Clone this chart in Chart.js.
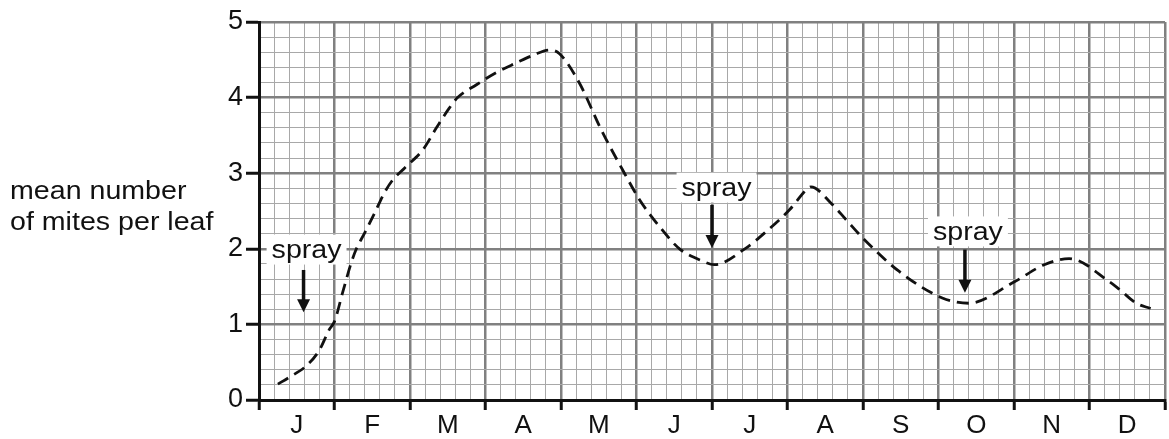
<!doctype html>
<html lang="en">
<head>
<meta charset="utf-8">
<title>Mean number of mites per leaf</title>
<style>
  html, body { margin: 0; padding: 0; background: #fff; }
  .wrap { position: relative; width: 1169px; height: 439px; }
</style>
</head>
<body>
<div class="wrap"><canvas id="chart" width="1169" height="439"></canvas></div>
<script src="https://cdn.jsdelivr.net/npm/chart.js@4.4.4/dist/chart.umd.min.js"></script>
<script>
// x is measured in months from the start of January (0..12)
const MONTHS = ["J", "F", "M", "A", "M", "J", "J", "A", "S", "O", "N", "D"];
const Y_TICKS = [0, 1, 2, 3, 4, 5];

// hand-drawn mite curve
const CURVE_X = [0.25, 0.4, 0.625, 0.8, 0.93, 1.0, 1.11, 1.22, 1.29, 1.4, 1.53, 1.66, 1.77, 1.93,
  2.17, 2.35, 2.52, 2.63, 2.88, 3.14, 3.41, 3.63, 3.85, 3.98,
  4.24, 4.53, 4.84, 5.04, 5.3, 5.57, 5.87, 6.03, 6.45, 6.72, 7.03, 7.25, 7.31, 7.58, 7.78, 8.0,
  8.48, 9.05, 9.4, 10.0, 10.4, 10.73, 11.27, 11.4, 11.62, 11.81];
const CURVE_Y = [0.21, 0.3, 0.45, 0.66, 0.93, 1.04, 1.43, 1.81, 2.0, 2.21, 2.47, 2.74, 2.91, 3.07,
  3.31, 3.6, 3.86, 4.0, 4.17, 4.33, 4.46, 4.56, 4.63, 4.58,
  4.2, 3.58, 3.0, 2.65, 2.3, 2.0, 1.84, 1.79, 2.01, 2.23, 2.52, 2.78, 2.82, 2.6, 2.38, 2.14,
  1.7, 1.35, 1.28, 1.56, 1.79, 1.87, 1.56, 1.46, 1.28, 1.21];

// "spray" annotations: label centre and arrow from top to tip
const SPRAY_TEXT = "spray";
const SPRAY_LABEL_X = [0.63, 6.06, 9.39];
const SPRAY_LABEL_Y = [1.99, 2.81, 2.23];
const SPRAY_ARROW_X = [0.59, 6.0, 9.35];
const SPRAY_ARROW_TOP = [1.72, 2.58, 1.99];
const SPRAY_ARROW_TIP = [1.16, 2.01, 1.42];

const Y_TITLE = ["mean number", "of mites per leaf"];

const FONT = "'Liberation Sans', Arial, sans-serif";
const MAJOR = "#808080";
const MINOR = "#a8a8a8";

const isWhole = (v) => Math.abs(v - Math.round(v)) < 1e-6;
const fifths = (n) => Array.from({ length: n * 5 + 1 }, (_, i) => ({ value: i / 5 }));

// text slightly widened, like the printed figure
function wideText(ctx, text, x, y, align, stretch) {
  ctx.save();
  ctx.translate(x, y);
  ctx.scale(stretch, 1);
  ctx.textAlign = align;
  ctx.fillText(text, 0, 0);
  ctx.restore();
}

const annotations = {
  id: "annotations",
  afterDatasetsDraw(chart) {
    const { ctx, scales: { x, y } } = chart;
    const stretch = 1.1;
    ctx.save();
    ctx.font = "26px " + FONT;
    ctx.textBaseline = "middle";

    for (let i = 0; i < SPRAY_LABEL_X.length; i++) {
      const cx = x.getPixelForValue(SPRAY_LABEL_X[i]);
      const cy = y.getPixelForValue(SPRAY_LABEL_Y[i]);
      const w = ctx.measureText(SPRAY_TEXT).width * stretch;
      ctx.fillStyle = "#fff";
      ctx.fillRect(cx - w / 2 - 5, cy - 15, w + 10, 30);
      ctx.fillStyle = "#111";
      wideText(ctx, SPRAY_TEXT, cx, cy + 1, "center", stretch);

      const ax = x.getPixelForValue(SPRAY_ARROW_X[i]);
      const top = y.getPixelForValue(SPRAY_ARROW_TOP[i]);
      const tip = y.getPixelForValue(SPRAY_ARROW_TIP[i]);
      ctx.strokeStyle = "#111";
      ctx.lineWidth = 3.5;
      ctx.beginPath();
      ctx.moveTo(ax, top);
      ctx.lineTo(ax, tip - 10);
      ctx.stroke();
      ctx.beginPath();
      ctx.moveTo(ax - 6.5, tip - 13);
      ctx.lineTo(ax + 6.5, tip - 13);
      ctx.lineTo(ax, tip);
      ctx.closePath();
      ctx.fill();
    }

    wideText(ctx, Y_TITLE[0], 10, 192, "left", stretch);
    wideText(ctx, Y_TITLE[1], 10, 223, "left", stretch);
    ctx.restore();
  },
};

new Chart(document.getElementById("chart"), {
  type: "line",
  data: {
    datasets: [{
      data: CURVE_X.map((v, i) => ({ x: v, y: CURVE_Y[i] })),
      borderColor: "#111",
      borderWidth: 2.8,
      borderDash: [12, 7],
      pointRadius: 0,
      cubicInterpolationMode: "monotone",
      fill: false,
    }],
  },
  options: {
    responsive: false,
    animation: false,
    layout: { padding: { left: 0, right: 4, top: 22, bottom: 0 } },
    plugins: { legend: { display: false }, tooltip: { enabled: false } },
    scales: {
      // graph-paper grid plus the tick marks at month boundaries
      x: {
        type: "linear", min: 0, max: 12, position: "bottom",
        afterBuildTicks: (axis) => { axis.ticks = fifths(12); },
        afterFit: (axis) => { axis.height = 10; },
        grid: {
          color: (c) => (isWhole(c.tick.value) ? MAJOR : MINOR),
          lineWidth: (c) => (isWhole(c.tick.value) ? 2.5 : 1),
          tickColor: (c) => (isWhole(c.tick.value) ? "#111" : "rgba(0,0,0,0)"),
          tickLength: 10,
          tickWidth: 3,
        },
        border: { color: "#111", width: 3 },
        ticks: { display: false, autoSkip: false },
      },
      // month letters centred in each month
      months: {
        type: "linear", min: 0, max: 12, position: "bottom",
        afterBuildTicks: (axis) => {
          axis.ticks = MONTHS.map((_, i) => ({ value: i + 0.5 }));
        },
        afterFit: (axis) => { axis.height = 29; },
        grid: { display: false, drawTicks: false },
        border: { display: false },
        ticks: {
          autoSkip: false, maxRotation: 0, padding: 0,
          color: "#111",
          font: { family: FONT, size: 26 },
          callback: (v) => MONTHS[Math.floor(v)],
        },
      },
      y: {
        type: "linear", min: 0, max: 5,
        afterBuildTicks: (axis) => { axis.ticks = fifths(5); },
        afterFit: (axis) => { axis.width = 259; },
        grid: {
          color: (c) => (isWhole(c.tick.value) ? MAJOR : MINOR),
          lineWidth: (c) => (isWhole(c.tick.value) ? 2.5 : 1),
          tickColor: (c) => (isWhole(c.tick.value) ? "#111" : "rgba(0,0,0,0)"),
          tickLength: 13,
          tickWidth: 3,
        },
        border: { color: "#111", width: 3 },
        ticks: {
          autoSkip: false, padding: 3,
          color: "#111",
          font: { family: FONT, size: 27 },
          callback: (v) => (isWhole(v) && Y_TICKS.includes(Math.round(v)) ? String(Math.round(v)) : ""),
        },
      },
    },
  },
  plugins: [annotations],
});
</script>
</body>
</html>
